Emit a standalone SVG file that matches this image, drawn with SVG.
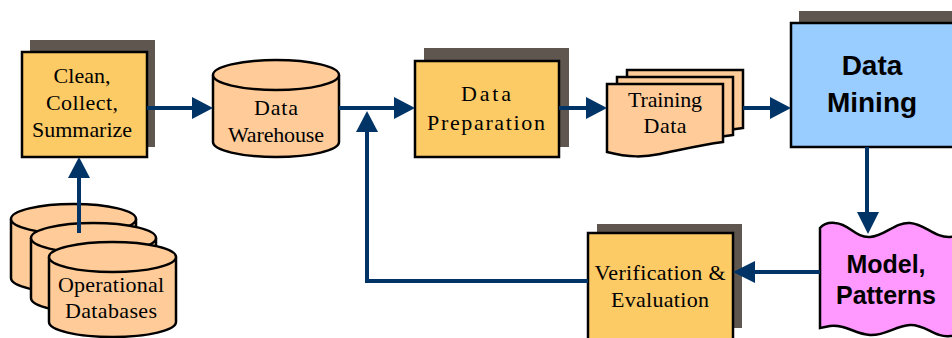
<svg xmlns="http://www.w3.org/2000/svg" width="952" height="338" viewBox="0 0 952 338">
<style>
.box{fill:#FDCB66;stroke:#000;stroke-width:2.5}
.sh{fill:#5F574F}
.cyl{fill:#FFCC99;stroke:#000;stroke-width:2.5}
.doc{fill:#FFCC99;stroke:#000;stroke-width:2.5}
.ln{fill:none;stroke:#003366;stroke-width:4}
.ah{fill:#003366}
.t{font-family:"Liberation Serif","Times New Roman",serif;font-size:22px;fill:#000;text-anchor:middle}
.b{font-family:"Liberation Sans",Arial,sans-serif;font-weight:bold;fill:#000;text-anchor:middle}
</style>
<rect width="952" height="338" fill="#fff"/>
<g id="operational-databases">
<path class="cyl" d="M11,219 A62.5,15 0 0 1 136,219 V278 A62.5,15 0 0 1 11,278 Z"/>
<path class="cyl" d="M11,219 A62.5,15 0 0 0 136,219"/>
<path class="cyl" d="M31,238 A62.5,15 0 0 1 156,238 V298 A62.5,15 0 0 1 31,298 Z"/>
<path class="cyl" d="M31,238 A62.5,15 0 0 0 156,238"/>
<path class="cyl" d="M49,257 A63.5,15 0 0 1 176,257 V322 A63.5,15 0 0 1 49,322 Z"/>
<path class="cyl" d="M49,257 A63.5,15 0 0 0 176,257"/>
<text class="t" x="111" y="292" textLength="106" lengthAdjust="spacing">Operational</text>
<text class="t" x="111" y="318" textLength="92" lengthAdjust="spacing">Databases</text>
</g>
<g id="clean">
<rect class="sh" x="30" y="40" width="125" height="107"/>
<rect class="box" x="22" y="52" width="125" height="105"/>
<text class="t" x="82" y="83" textLength="57" lengthAdjust="spacing">Clean,</text>
<text class="t" x="82" y="110" textLength="72" lengthAdjust="spacing">Collect,</text>
<text class="t" x="82" y="137" textLength="100" lengthAdjust="spacing">Summarize</text>
</g>
<g id="data-warehouse">
<path class="cyl" d="M213,75 A63,15 0 0 1 339,75 V142 A63,15 0 0 1 213,142 Z"/>
<path class="cyl" d="M213,75 A63,15 0 0 0 339,75"/>
<text class="t" x="276" y="115" textLength="44" lengthAdjust="spacing">Data</text>
<text class="t" x="276" y="142" textLength="96" lengthAdjust="spacing">Warehouse</text>
</g>
<g id="data-preparation">
<rect class="sh" x="424" y="48" width="145" height="99"/>
<rect class="box" x="415" y="61" width="144" height="96"/>
<text class="t" x="486" y="101" textLength="50" lengthAdjust="spacing">Data</text>
<text class="t" x="486" y="130" textLength="118" lengthAdjust="spacing">Preparation</text>
</g>
<g id="training-data">
<path class="doc" d="M627,70 H743 V128 C720,131 700,136 680,140 C665,143 650,144 627,138 Z"/>
<path class="doc" d="M617,77 H733 V135 C710,138 690,143 670,147 C655,150 640,151 617,145 Z"/>
<path class="doc" d="M607,84 H723 V142 C700,145 680,150 660,154 C645,157 630,158 607,152 Z"/>
<text class="t" x="665" y="107" textLength="74" lengthAdjust="spacing">Training</text>
<text class="t" x="665" y="133" textLength="43" lengthAdjust="spacing">Data</text>
</g>
<g id="data-mining">
<rect class="sh" x="799" y="11" width="160" height="124"/>
<rect x="791" y="23" width="170" height="124" fill="#99CCFF" stroke="#000" stroke-width="2.5"/>
<text class="b" x="872" y="75" font-size="28">Data</text>
<text class="b" x="872" y="112" font-size="28">Mining</text>
</g>
<g id="model-patterns">
<path d="M820,228 Q825,222 835,223 C850,224 855,238 870,237 C885,236 895,222 910,223 C925,224 935,238 950,237 L960,236 V336 L950,336 C935,338 925,324 910,325 C895,326 885,336 870,335 C855,334 845,324 830,326 L820,328 Z" fill="#FF99FF" stroke="#000" stroke-width="2.5"/>
<text class="b" x="886" y="273" font-size="25">Model,</text>
<text class="b" x="886" y="304" font-size="25">Patterns</text>
</g>
<g id="verification">
<rect class="sh" x="597" y="224" width="145" height="104"/>
<rect class="box" x="588" y="233" width="145" height="120"/>
<text class="t" x="660" y="280" textLength="131" lengthAdjust="spacing">Verification &amp;</text>
<text class="t" x="660" y="307" textLength="98" lengthAdjust="spacing">Evaluation</text>
</g>
<g id="connectors">
<path class="ln" d="M79,233 V176"/>
<polygon class="ah" points="79,157 68,178 90,178"/>
<path class="ln" d="M147,108 H194"/>
<polygon class="ah" points="213,108 192,97 192,119"/>
<path class="ln" d="M339,108 H396"/>
<polygon class="ah" points="415,108 394,97 394,119"/>
<path class="ln" d="M559,108 H588"/>
<polygon class="ah" points="607,108 586,97 586,119"/>
<path class="ln" d="M743,108 H772"/>
<polygon class="ah" points="791,108 770,97 770,119"/>
<path class="ln" d="M867,147 V214"/>
<polygon class="ah" points="868,234 857,212 879,212"/>
<path class="ln" d="M820,272 H752"/>
<polygon class="ah" points="733,272 755,261 755,283"/>
<path class="ln" d="M588,281 H367 V130"/>
<polygon class="ah" points="367,111 356,132 378,132"/>
</g>
</svg>
